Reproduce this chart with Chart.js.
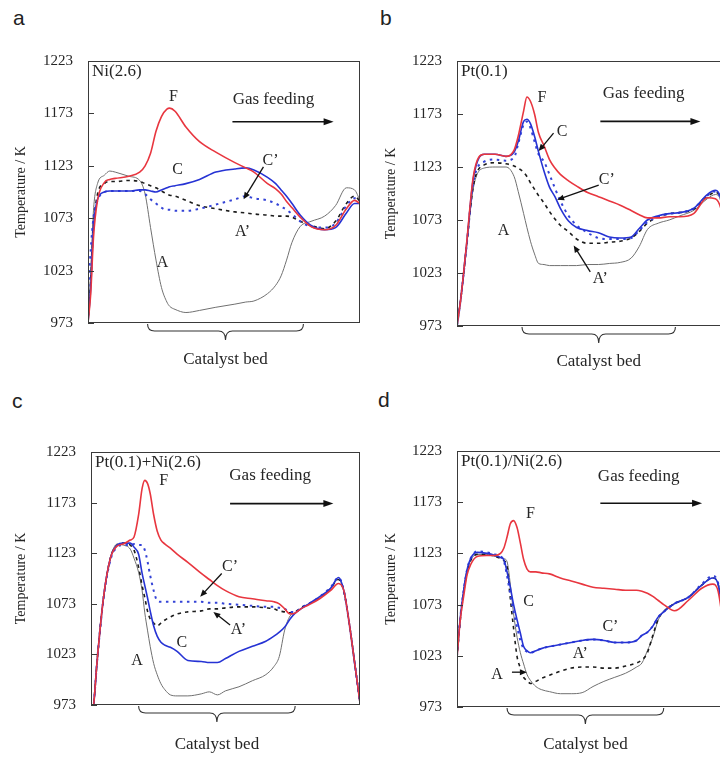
<!DOCTYPE html>
<html>
<head>
<meta charset="utf-8">
<script src="https://cdn.jsdelivr.net/npm/chart.js@4.4.1/dist/chart.umd.min.js"></script>
<style>
  html, body { margin: 0; padding: 0; background: #fff; }
  body { width: 720px; height: 757px; position: relative; overflow: hidden; }
  .panel { position: absolute; }
  .tag { position: absolute; font-family: 'Liberation Sans', Arial, sans-serif; font-size: 21px; line-height: 1; color: #222; }
</style>
</head>
<body>
<div class="tag" style="left:13px;top:7px">a</div>
<div class="tag" style="left:380px;top:7px">b</div>
<div class="tag" style="left:12px;top:390px">c</div>
<div class="tag" style="left:378px;top:389px">d</div>
<div class="panel" style="left:0;top:0;width:365px;height:380px"><canvas id="ca"></canvas></div>
<div class="panel" style="left:360px;top:0;width:375px;height:380px"><canvas id="cb"></canvas></div>
<div class="panel" style="left:0;top:380px;width:365px;height:377px"><canvas id="cc"></canvas></div>
<div class="panel" style="left:360px;top:380px;width:375px;height:377px"><canvas id="cd"></canvas></div>
<script>
// temperature profiles along the reactor (position in % of the tube length, K)
const yTicks = [973, 1023, 1073, 1123, 1173, 1223];

// a: Ni(2.6)
const posA = [0, 1, 2, 3.5, 6, 8, 10, 15, 19, 21, 23, 25, 27, 29, 30, 32, 36, 41, 47, 54, 58, 61, 66, 69, 71, 73, 75, 78, 82, 87, 91, 95, 98, 100];
const aF  = [973, 1001, 1054, 1090, 1107, 1110, 1111, 1113, 1117, 1123, 1135, 1156, 1170, 1177, 1178, 1175, 1160, 1146, 1136, 1126, 1121, 1117, 1106, 1101, 1096, 1089, 1083, 1074, 1065, 1062, 1066, 1082, 1090, 1087];
const aC  = [973, 1007, 1064, 1091, 1098, 1099, 1099, 1099, 1100, 1100, 1099, 1098, 1100, 1102, 1103, 1104, 1106, 1110, 1117, 1120, 1121, 1119, 1112, 1106, 1100, 1094, 1087, 1076, 1066, 1062, 1064, 1078, 1087, 1087];
const aC2 = [1001, 1043, 1073, 1090, 1098, 1099, 1099, 1099, 1099, 1096, 1091, 1087, 1083, 1081, 1081, 1080, 1080, 1082, 1086, 1091, 1094, 1092, 1090, 1087, 1084, 1081, 1077, 1070, 1065, 1064, 1068, 1085, 1092, 1089];
const aA2 = [973, 1012, 1064, 1096, 1106, 1108, 1108, 1109, 1108, 1106, 1104, 1102, 1099, 1096, 1095, 1094, 1090, 1085, 1082, 1079, 1078, 1077, 1076, 1075, 1075, 1075, 1074, 1070, 1066, 1063, 1070, 1087, 1094, 1089];
const aA  = [973, 1022, 1080, 1106, 1114, 1118, 1117, 1113, 1109, 1096, 1064, 1033, 1007, 993, 989, 986, 983, 985, 988, 991, 993, 994, 1001, 1009, 1018, 1033, 1050, 1065, 1070, 1075, 1085, 1102, 1100, 1090];

// b: Pt(0.1)
const posB = [0, 1.5, 3.5, 6, 10, 14, 18, 21, 22.5, 24.5, 25.7, 27, 28.5, 30, 32, 34, 36, 38, 41, 44, 48, 52, 56, 60, 64, 67, 70, 74, 78, 82, 87, 92, 95, 97, 100];
const bF  = [973, 1001, 1050, 1114, 1135, 1135, 1133, 1139, 1152, 1176, 1189, 1185, 1173, 1155, 1143, 1130, 1122, 1116, 1110, 1105, 1099, 1095, 1091, 1087, 1082, 1078, 1075, 1075, 1076, 1076, 1079, 1094, 1093, 1084, 1043];
const bC  = [973, 1001, 1049, 1112, 1135, 1135, 1133, 1137, 1147, 1166, 1168, 1164, 1152, 1137, 1119, 1104, 1095, 1084, 1072, 1066, 1063, 1061, 1057, 1056, 1057, 1065, 1073, 1077, 1079, 1080, 1084, 1097, 1101, 1093, 1043];
const bC2 = [973, 1001, 1048, 1108, 1128, 1130, 1129, 1132, 1145, 1163, 1166, 1160, 1147, 1135, 1128, 1116, 1103, 1091, 1077, 1068, 1061, 1056, 1055, 1055, 1056, 1063, 1071, 1076, 1079, 1080, 1084, 1096, 1100, 1092, 1043];
const bA2 = [973, 1001, 1048, 1105, 1125, 1127, 1126, 1124, 1122, 1118, 1114, 1108, 1102, 1096, 1089, 1081, 1074, 1068, 1062, 1055, 1051, 1051, 1052, 1053, 1056, 1062, 1070, 1076, 1079, 1080, 1083, 1095, 1099, 1092, 1043];
const bA  = [973, 1001, 1047, 1103, 1122, 1123, 1123, 1114, 1100, 1079, 1066, 1053, 1041, 1032, 1031, 1030, 1030, 1030, 1030, 1030, 1031, 1031, 1032, 1033, 1037, 1048, 1064, 1070, 1073, 1077, 1082, 1093, 1097, 1091, 1043];

// c: Pt(0.1)+Ni(2.6)
const posC = [0, 1, 2.2, 4.7, 7.2, 9.7, 12, 14.6, 16, 17.7, 19, 20, 21, 22, 23.3, 24.6, 26, 27.5, 29.5, 32, 36, 41, 44, 47, 50, 55, 60, 65, 68, 70, 72, 74, 76, 78, 81, 85, 89, 92, 94, 96, 98, 100];
const cF  = [954, 973, 1014, 1080, 1118, 1130, 1132, 1136, 1139, 1161, 1187, 1195, 1192, 1182, 1161, 1145, 1136, 1132, 1128, 1122, 1114, 1103, 1097, 1091, 1086, 1080, 1078, 1076, 1075, 1073, 1068, 1063, 1064, 1068, 1072, 1078, 1086, 1093, 1086, 1054, 1015, 975];
const cC  = [954, 973, 1014, 1080, 1118, 1131, 1133, 1133, 1129, 1122, 1103, 1091, 1079, 1066, 1051, 1041, 1035, 1032, 1030, 1026, 1017, 1016, 1015, 1015, 1019, 1026, 1031, 1036, 1041, 1045, 1050, 1058, 1064, 1068, 1073, 1080, 1088, 1099, 1086, 1054, 1015, 975];
const cC2 = [954, 973, 1014, 1079, 1116, 1129, 1131, 1131, 1132, 1131, 1131, 1126, 1115, 1101, 1086, 1076, 1075, 1075, 1075, 1075, 1075, 1075, 1074, 1074, 1073, 1072, 1071, 1070, 1070, 1069, 1068, 1065, 1065, 1069, 1073, 1080, 1089, 1099, 1086, 1054, 1015, 975];
const cA2 = [954, 973, 1014, 1080, 1118, 1131, 1133, 1131, 1126, 1109, 1091, 1079, 1066, 1058, 1054, 1051, 1054, 1057, 1060, 1063, 1065, 1066, 1068, 1068, 1069, 1070, 1070, 1069, 1068, 1066, 1065, 1064, 1065, 1069, 1073, 1079, 1088, 1097, 1085, 1054, 1015, 975];
const cA  = [954, 973, 1014, 1080, 1118, 1132, 1131, 1127, 1118, 1104, 1086, 1064, 1047, 1031, 1014, 1003, 994, 988, 983, 982, 982, 984, 986, 983, 987, 991, 997, 1003, 1011, 1021, 1047, 1061, 1064, 1068, 1073, 1079, 1088, 1097, 1085, 1054, 1015, 975];

// d: Pt(0.1)/Ni(2.6)
const posD = [0, 1.2, 2.5, 3.7, 5, 7.4, 11, 14, 16, 17.2, 18.4, 19.6, 20.8, 22.1, 23.3, 24.5, 25.7, 27, 29, 31, 34, 38, 42, 46, 50, 54, 58, 62, 66, 68, 70, 72, 74, 76, 80, 85, 90, 94, 96, 100];
const dF  = [1021, 1058, 1082, 1102, 1112, 1120, 1121, 1121, 1123, 1128, 1139, 1152, 1155, 1148, 1133, 1117, 1108, 1105, 1105, 1104, 1103, 1099, 1096, 1093, 1090, 1089, 1088, 1087, 1087, 1086, 1084, 1081, 1077, 1073, 1067, 1077, 1089, 1093, 1086, 1002];
const dC  = [1023, 1060, 1088, 1107, 1118, 1124, 1123, 1121, 1119, 1117, 1105, 1090, 1073, 1058, 1045, 1032, 1028, 1026, 1028, 1030, 1032, 1034, 1036, 1038, 1039, 1038, 1036, 1036, 1038, 1043, 1046, 1052, 1061, 1066, 1074, 1080, 1092, 1099, 1093, 1002];
const dC2 = [1023, 1060, 1088, 1107, 1118, 1125, 1124, 1122, 1120, 1116, 1101, 1083, 1066, 1051, 1038, 1030, 1027, 1026, 1028, 1030, 1032, 1034, 1036, 1038, 1039, 1038, 1036, 1036, 1038, 1043, 1046, 1052, 1061, 1066, 1074, 1080, 1093, 1101, 1094, 1002];
const dA2 = [1021, 1058, 1086, 1105, 1116, 1122, 1122, 1120, 1118, 1116, 1110, 1079, 1050, 1022, 1011, 1002, 999, 996, 998, 1001, 1004, 1008, 1011, 1012, 1012, 1011, 1011, 1013, 1016, 1019, 1026, 1043, 1059, 1066, 1074, 1080, 1092, 1099, 1093, 1002];
const dA  = [1021, 1058, 1086, 1105, 1116, 1122, 1122, 1120, 1119, 1118, 1115, 1093, 1064, 1041, 1026, 1015, 1005, 999, 993, 990, 988, 986, 986, 987, 993, 998, 1002, 1006, 1012, 1016, 1028, 1041, 1058, 1067, 1074, 1080, 1092, 1099, 1093, 1002];

const SERIF = "'Liberation Serif', 'Times New Roman', serif";
const INK = '#262626';

function curves(xs, f, c, c2, a2, a) {
  const pts = ys => xs.map((x, i) => ({ x: x, y: ys[i] }));
  // first dataset is painted last, so F ends up on top
  return [
    { label: 'F',  data: pts(f),  borderColor: '#e8363f', borderWidth: 1.6 },
    { label: 'C',  data: pts(c),  borderColor: '#2633d4', borderWidth: 1.6 },
    { label: "C'", data: pts(c2), borderColor: '#3443d6', borderWidth: 2, borderDash: [2.5, 4.5] },
    { label: "A'", data: pts(a2), borderColor: '#1c1c1c', borderWidth: 1.6, borderDash: [3.5, 4] },
    { label: 'A',  data: pts(a),  borderColor: '#707070', borderWidth: 1 }
  ];
}

function arrow(ctx, x0, y0, x1, y1, len, half) {
  const ang = Math.atan2(y1 - y0, x1 - x0);
  ctx.beginPath();
  ctx.moveTo(x0, y0);
  ctx.lineTo(x1 - Math.cos(ang) * len * 0.8, y1 - Math.sin(ang) * len * 0.8);
  ctx.stroke();
  ctx.beginPath();
  ctx.moveTo(x1, y1);
  ctx.lineTo(x1 - Math.cos(ang) * len - Math.sin(ang) * half, y1 - Math.sin(ang) * len + Math.cos(ang) * half);
  ctx.lineTo(x1 - Math.cos(ang) * len + Math.sin(ang) * half, y1 - Math.sin(ang) * len - Math.cos(ang) * half);
  ctx.closePath();
  ctx.fill();
}

// frame, inward ticks, curve labels, feed arrow and catalyst-bed brace
const panelNotes = {
  id: 'panelNotes',
  afterDraw(chart, args, o) {
    const { ctx, chartArea: area } = chart;
    const xs = chart.scales.x, ys = chart.scales.y;
    const px = v => xs.getPixelForValue(v), py = v => ys.getPixelForValue(v);
    ctx.save();
    ctx.strokeStyle = '#3a3a3a';
    ctx.fillStyle = INK;
    ctx.lineWidth = 1;
    ctx.strokeRect(area.left + 0.5, area.top + 0.5, area.right - area.left - 1, area.bottom - area.top - 1);
    ys.ticks.forEach(t => {
      const y = Math.round(py(t.value)) + 0.5;
      ctx.beginPath();
      ctx.moveTo(area.left, y);
      ctx.lineTo(area.left + 6, y);
      ctx.stroke();
    });

    ctx.font = '17px ' + SERIF;
    ctx.textAlign = 'left';
    ctx.textBaseline = 'middle';
    ctx.fillText(o.name, area.left + 4, area.top + 11);

    ctx.textAlign = 'center';
    ctx.fillText('Gas feeding', px(o.gas[0]), py(o.gas[1]));
    ctx.strokeStyle = '#111';
    ctx.fillStyle = '#111';
    ctx.lineWidth = 1.6;
    arrow(ctx, px(o.gas[2]), py(o.gas[4]), px(o.gas[3]), py(o.gas[4]), 10, 3.5);

    ctx.fillStyle = INK;
    ctx.font = '16px ' + SERIF;
    o.notes.forEach(n => ctx.fillText(n[0], px(n[1]), py(n[2])));
    ctx.strokeStyle = '#111';
    ctx.fillStyle = '#111';
    ctx.lineWidth = 1.3;
    o.arrows.forEach(a => arrow(ctx, px(a[0]), py(a[1]), px(a[2]), py(a[3]), 7, 3));

    // brace under the catalyst bed
    const b0 = px(o.bed[0]), b1 = px(o.bed[1]), m = (b0 + b1) / 2, y0 = area.bottom;
    ctx.strokeStyle = '#333';
    ctx.lineWidth = 1.1;
    ctx.beginPath();
    ctx.moveTo(b0, y0 + 1);
    ctx.quadraticCurveTo(b0, y0 + 8, b0 + 7, y0 + 8);
    ctx.lineTo(m - 7, y0 + 8);
    ctx.quadraticCurveTo(m, y0 + 8, m, y0 + 17);
    ctx.quadraticCurveTo(m, y0 + 8, m + 7, y0 + 8);
    ctx.lineTo(b1 - 7, y0 + 8);
    ctx.quadraticCurveTo(b1, y0 + 8, b1, y0 + 1);
    ctx.stroke();
    ctx.fillStyle = INK;
    ctx.font = '17px ' + SERIF;
    ctx.fillText('Catalyst bed', m, y0 + o.bed[2]);
    ctx.restore();
  }
};

function drawPanel(id, datasets, box, notes) {
  new Chart(document.getElementById(id), {
    type: 'line',
    data: { datasets: datasets },
    plugins: [panelNotes],
    options: {
      responsive: true,
      maintainAspectRatio: false,
      animation: false,
      layout: { padding: { left: 0, top: box.top, right: box.right, bottom: box.bottom } },
      elements: {
        point: { radius: 0 },
        line: { cubicInterpolationMode: 'monotone', borderCapStyle: 'butt' }
      },
      scales: {
        x: { type: 'linear', min: 0, max: 100, display: false },
        y: {
          min: yTicks[0],
          max: yTicks[yTicks.length - 1],
          afterBuildTicks: s => { s.ticks = yTicks.map(v => ({ value: v })); },
          afterFit: s => { s.width = box.left; },
          grid: { display: false, drawTicks: false },
          border: { display: false },
          ticks: {
            padding: 15,
            color: INK,
            font: { family: SERIF, size: 15 },
            callback: v => String(v)
          },
          title: {
            display: true,
            text: 'Temperature / K',
            color: INK,
            font: { family: SERIF, size: 14, lineHeight: 1 },
            padding: { top: box.title, bottom: 0 }
          }
        }
      },
      plugins: {
        legend: { display: false },
        tooltip: { enabled: false },
        panelNotes: notes
      }
    }
  });
}

drawPanel('ca', curves(posA, aF, aC, aC2, aA2, aA),
  { left: 88, top: 61, right: 5, bottom: 57, title: 14 },
  {
    name: 'Ni(2.6)',
    gas: [68.2, 1186, 53.1, 90.3, 1165],
    notes: [['F', 31.4, 1189], ['C', 32.9, 1119], ['C\u2019', 67.1, 1128], ['A\u2019', 56.8, 1060], ['A', 27.4, 1030]],
    arrows: [[64.5, 1122, 57.2, 1091]],
    bed: [21.9, 79.2, 37]
  });

drawPanel('cb', curves(posB, bF, bC, bC2, bA2, bA),
  { left: 97, top: 61, right: 6, bottom: 54, title: 24 },
  {
    name: 'Pt(0.1)',
    gas: [68.6, 1192, 52.7, 89.5, 1166],
    notes: [['F', 31.2, 1188], ['C', 38.6, 1156], ['C\u2019', 55.1, 1111], ['A', 17.1, 1063], ['A\u2019', 52.7, 1018]],
    arrows: [[35.5, 1155, 30, 1138], [52.1, 1106, 36.8, 1092], [49, 1024, 42.9, 1049]],
    bed: [23.9, 80.3, 36]
  });

drawPanel('cc', curves(posC, cF, cC, cC2, cA2, cA),
  { left: 91, top: 72, right: 5, bottom: 52, title: 14 },
  {
    name: 'Pt(0.1)+Ni(2.6)',
    gas: [66.6, 1200, 51.7, 90.1, 1172],
    notes: [['F', 27, 1195], ['C\u2019', 51.7, 1110], ['A\u2019', 54.8, 1047], ['C', 33.8, 1034], ['A', 17.1, 1017]],
    arrows: [[48.6, 1103, 40.6, 1080], [51.7, 1052, 45.5, 1065]],
    bed: [17.7, 75.9, 40]
  });

drawPanel('cd', curves(posD, dF, dC, dC2, dA2, dA),
  { left: 97, top: 71, right: 6, bottom: 50, title: 24 },
  {
    name: 'Pt(0.1)/Ni(2.6)',
    gas: [66.8, 1198, 52.7, 90.1, 1172],
    notes: [['F', 27, 1162], ['C', 26.3, 1076], ['C\u2019', 56.4, 1051], ['A\u2019', 45.3, 1025], ['A', 14.7, 1004]],
    arrows: [[20.2, 1007, 25.7, 1007]],
    bed: [18.4, 76, 38]
  });
</script>
</body>
</html>
